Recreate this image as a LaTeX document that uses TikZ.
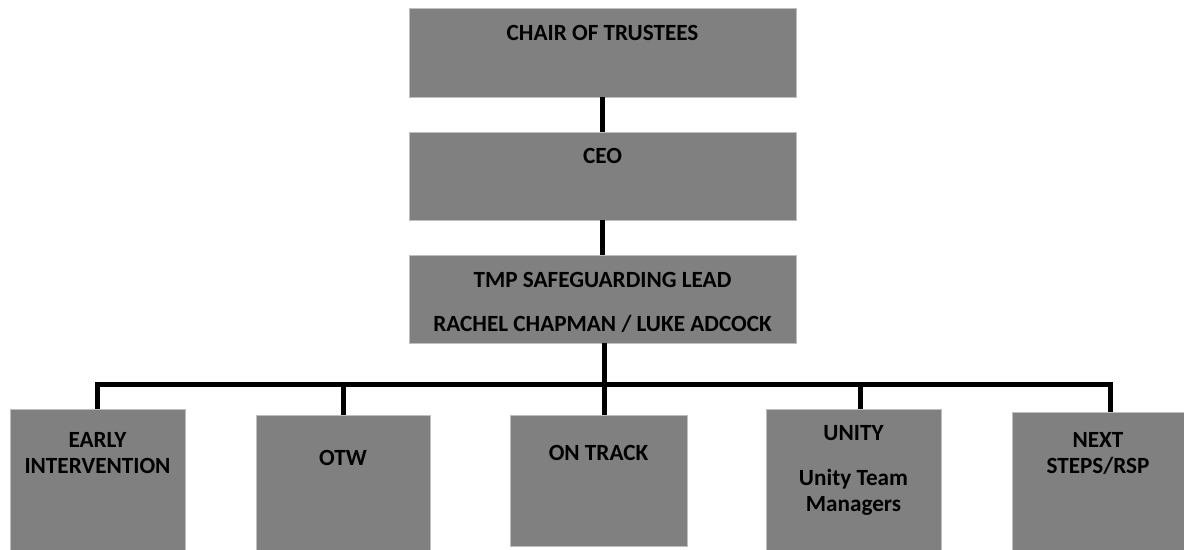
\documentclass[tikz,border=0pt]{standalone}
\usepackage{fontspec}
\setmainfont{Carlito}
\usepackage{tikz}
\usetikzlibrary{positioning}

\begin{document}
\begin{tikzpicture}[
		x=0.02cm,y=-0.02cm,
		font=\bfseries\fontsize{13.2}{14.8}\selectfont,
		box/.style={rectangle,fill=black!50,draw=black!25,line width=0.4pt,inner sep=0pt},
		lbl/.style={anchor=north,align=center,inner sep=0pt,text=black},
		link/.style={line width=0.1cm,black}]
		\useasboundingbox (0,0) rectangle (1184,549);
		
		% Draw top boxes
		\node[box,minimum width=0.02cm*387,minimum height=0.02cm*89] (chair) at (602.5,52.5) {};
		\node[box,minimum width=0.02cm*387,minimum height=0.02cm*88] (ceo) at (602.5,176) {};
		\node[box,minimum width=0.02cm*387,minimum height=0.02cm*88] (tmp) at (602.5,299) {};
		
		% Draw bottom boxes
		\node[box,minimum width=0.02cm*175,minimum height=0.02cm*145] (early) at (97.5,481.5) {};
		\node[box,minimum width=0.02cm*174,minimum height=0.02cm*139] (otw) at (343,484.5) {};
		\node[box,minimum width=0.02cm*177,minimum height=0.02cm*131] (ontrack) at (598.5,480.5) {};
		\node[box,minimum width=0.02cm*175,minimum height=0.02cm*145] (unity) at (853.5,481.5) {};
		\node[box,minimum width=0.02cm*172,minimum height=0.02cm*142] (next) at (1098,483) {};
		
		% Texts
		\node[lbl] (chairtxt) at (602.5,25) {CHAIR OF TRUSTEES};
		\node[lbl] (ceotxt) at (602.5,148) {CEO};
		\node[lbl] (tmptxt) at (602.5,272) {TMP SAFEGUARDING LEAD\\[0.36cm] RACHEL CHAPMAN / LUKE ADCOCK};
		\node[lbl] (earlytxt) at (97.5,432) {EARLY\\INTERVENTION};
		\node[lbl] (otwtxt) at (343,450) {OTW};
		\node[lbl] (ontracktxt) at (598.5,445) {ON TRACK};
		\node[lbl] (unitytxt) at (853.5,425) {UNITY\\[0.38cm] Unity Team\\Managers};
		\node[lbl] (nexttxt) at (1098,432) {NEXT\\STEPS/RSP};
		
		% Draw connectors
		\coordinate (bus) at (603,384);
		\draw[link] (chair.south) -- (ceo.north);
		\draw[link] (ceo.south) -- (tmp.north);
		\draw[link] ([xshift=0.03cm]tmp.south) -- ([xshift=0.03cm]tmp.south |- ontrack.north);
		\draw[link] (early.north) |- ([xshift=0.24cm]next.north |- bus) -- ([xshift=0.24cm]next.north);
		\draw[link] (bus -| otw.north) -- (otw.north);
		\draw[link] ([xshift=0.13cm]bus -| unity.north) -- ([xshift=0.13cm]unity.north);
		
\end{tikzpicture}
\end{document}
